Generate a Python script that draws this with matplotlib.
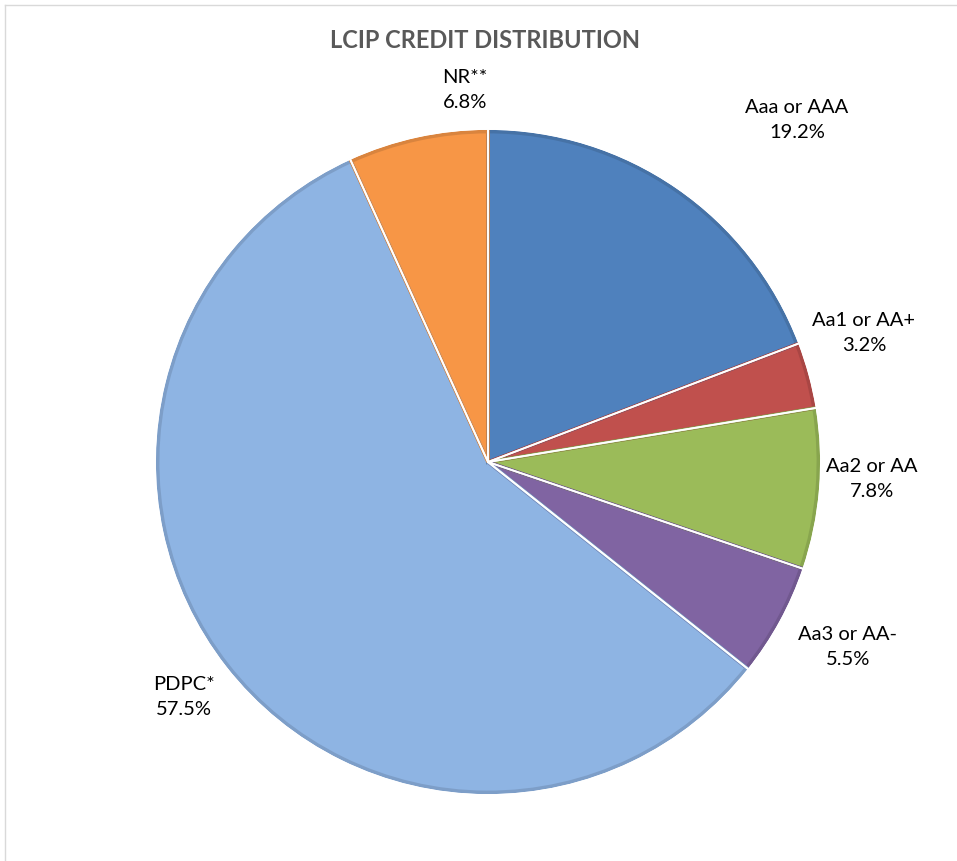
import matplotlib.pyplot as plt
import matplotlib.colors as mcolors
from matplotlib.lines import Line2D

plt.rcParams['font.family'] = ['Lato', 'DejaVu Sans']

categories = ['Aaa or AAA', 'Aa1 or AA+', 'Aa2 or AA', 'Aa3 or AA-', 'PDPC*', 'NR**']
shares = [19.2, 3.2, 7.8, 5.5, 57.5, 6.8]
colors = ['#4F81BD', '#C0504D', '#9BBB59', '#8064A2', '#8EB4E3', '#F79646']

# label placement (pixel centers)
label_px = [(797, 120), (864, 333), (872, 479), (848, 647), (184, 697), (465, 90)]

W, H = 957, 861
cx, cy, R = 488, 462, 333

fig = plt.figure(figsize=(W / 100, H / 100), dpi=100)
ax = fig.add_axes([(cx - R) / W, (H - cy - R) / H, 2 * R / W, 2 * R / H])
ax.axis('off')

def darker(c, f=0.88):
    r, g, b = mcolors.to_rgb(c)
    return (r * f, g * f, b * f)

wedges, _ = ax.pie(shares, colors=colors, startangle=90, counterclock=False,
                   radius=1,
                   wedgeprops=dict(edgecolor='white', linewidth=1.5))
# darker rim just inside each slice
inner, _ = ax.pie(shares, colors=colors, startangle=90, counterclock=False,
                  radius=0.992,
                  wedgeprops=dict(linewidth=2.5, fill=False))
for w, c in zip(inner, colors):
    w.set_edgecolor(darker(c))
# white separators on top
ax.pie(shares, startangle=90, counterclock=False, radius=1.0,
       wedgeprops=dict(fill=False, edgecolor='white', linewidth=1.3))

ax.set_xlim(-1, 1)
ax.set_ylim(-1, 1)
ax.set_aspect('equal')

for cat, val, (px, py) in zip(categories, shares, label_px):
    x = (px - cx) / R
    y = (cy - py) / R
    ax.text(x, y, f'{cat}\n{val:.1f}%', ha='center', va='center',
            fontsize=14.5, color='black', linespacing=1.55, clip_on=False)

fig.text(0.507, 1 - 40 / H, 'LCIP CREDIT DISTRIBUTION', ha='center', va='center',
         fontsize=17, fontweight='bold', color='#595959')

# chart frame (top and left edges visible)
fig.add_artist(Line2D([5 / W, 5 / W], [0, 1 - 5 / H], transform=fig.transFigure,
                      color='#d9d9d9', lw=1))
fig.add_artist(Line2D([5 / W, 1], [1 - 5 / H, 1 - 5 / H], transform=fig.transFigure,
                      color='#d9d9d9', lw=1))

fig.savefig('out.png', dpi=100)
